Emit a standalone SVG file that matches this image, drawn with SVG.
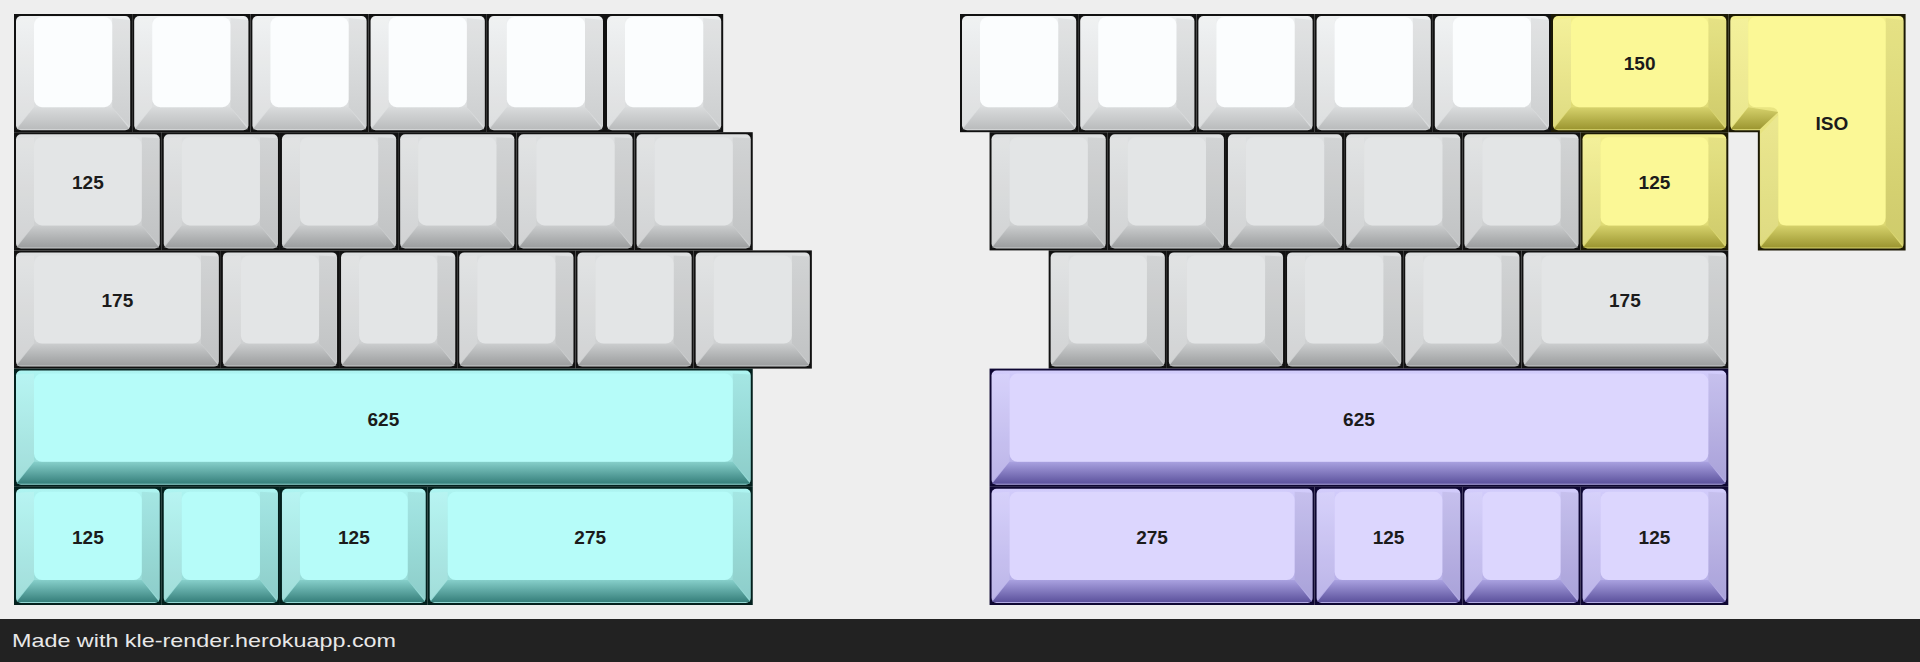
<svg xmlns="http://www.w3.org/2000/svg" width="1920" height="662" viewBox="0 0 1920 662">
<defs>
<linearGradient id="capW" x1="0" y1="0" x2="0" y2="1"><stop offset="0" stop-color="#eef0f1"/><stop offset="1" stop-color="#d8dadb"/></linearGradient>
<linearGradient id="botW" x1="0" y1="0" x2="0" y2="1"><stop offset="0" stop-color="#d9dbdc"/><stop offset="1" stop-color="#babcbd"/></linearGradient>
<linearGradient id="capG" x1="0" y1="0" x2="0" y2="1"><stop offset="0" stop-color="#dee0e1"/><stop offset="1" stop-color="#cbcdce"/></linearGradient>
<linearGradient id="botG" x1="0" y1="0" x2="0" y2="1"><stop offset="0" stop-color="#cbcdce"/><stop offset="1" stop-color="#9c9e9f"/></linearGradient>
<linearGradient id="capC" x1="0" y1="0" x2="0" y2="1"><stop offset="0" stop-color="#aef4f1"/><stop offset="1" stop-color="#94d8d4"/></linearGradient>
<linearGradient id="botC" x1="0" y1="0" x2="0" y2="1"><stop offset="0" stop-color="#86cfca"/><stop offset="1" stop-color="#367f7b"/></linearGradient>
<linearGradient id="capP" x1="0" y1="0" x2="0" y2="1"><stop offset="0" stop-color="#d2ccfb"/><stop offset="1" stop-color="#b2aae4"/></linearGradient>
<linearGradient id="botP" x1="0" y1="0" x2="0" y2="1"><stop offset="0" stop-color="#a9a1e0"/><stop offset="1" stop-color="#5c529d"/></linearGradient>
<linearGradient id="capY" x1="0" y1="0" x2="0" y2="1"><stop offset="0" stop-color="#f3ef8d"/><stop offset="1" stop-color="#dad670"/></linearGradient>
<linearGradient id="botY" x1="0" y1="0" x2="0" y2="1"><stop offset="0" stop-color="#d6d26c"/><stop offset="1" stop-color="#9c9631"/></linearGradient>
</defs>
<style>
.bdW{fill:#111111}.bdC{fill:#03201d}.bdP{fill:#0e0732}.bdY{fill:#1c1904}
.capW{fill:url(#capW)}.botW{fill:url(#botW)}.topW{fill:#fbfdfe}
.capG{fill:url(#capG)}.botG{fill:url(#botG)}.topG{fill:#e3e5e6}
.capC{fill:url(#capC)}.botC{fill:url(#botC)}.topC{fill:#b6fcf9}
.capP{fill:url(#capP)}.botP{fill:url(#botP)}.topP{fill:#dcd6fe}
.capY{fill:url(#capY)}.botY{fill:url(#botY)}.topY{fill:#fbf896}
.shL{fill:#ffffff;fill-opacity:0.12}.shR{fill:#000000;fill-opacity:0.05}
.lbl{font-family:"Liberation Sans",Arial,sans-serif;font-weight:700;font-size:19px;fill:#1b1b1b;text-anchor:middle}
.foot{font-family:"Liberation Sans",Arial,sans-serif;font-size:19px;fill:#e8e8e8}
</style>
<rect width="1920" height="662" fill="#eeeeee"/>

<!-- LEFT BLOCK -->
<g id="L0-0" transform="translate(14,14)"><rect class="bdW" width="118.2" height="118.2"/><rect class="capW" x="2" y="2" width="114.2" height="114.2" rx="5"/><polygon class="shL" points="2,6 20,4 20,93.2 2.5,113"/><polygon class="shR" points="116.2,6 98.2,4 98.2,93.2 115.7,113"/><polygon class="botW" points="2.5,115.2 115.7,115.2 98.2,93.2 20,93.2"/><rect class="topW" x="20" y="3" width="78.2" height="90.2" rx="8"/></g>
<g id="L0-1" transform="translate(132.2,14)"><rect class="bdW" width="118.2" height="118.2"/><rect class="capW" x="2" y="2" width="114.2" height="114.2" rx="5"/><polygon class="shL" points="2,6 20,4 20,93.2 2.5,113"/><polygon class="shR" points="116.2,6 98.2,4 98.2,93.2 115.7,113"/><polygon class="botW" points="2.5,115.2 115.7,115.2 98.2,93.2 20,93.2"/><rect class="topW" x="20" y="3" width="78.2" height="90.2" rx="8"/></g>
<g id="L0-2" transform="translate(250.4,14)"><rect class="bdW" width="118.2" height="118.2"/><rect class="capW" x="2" y="2" width="114.2" height="114.2" rx="5"/><polygon class="shL" points="2,6 20,4 20,93.2 2.5,113"/><polygon class="shR" points="116.2,6 98.2,4 98.2,93.2 115.7,113"/><polygon class="botW" points="2.5,115.2 115.7,115.2 98.2,93.2 20,93.2"/><rect class="topW" x="20" y="3" width="78.2" height="90.2" rx="8"/></g>
<g id="L0-3" transform="translate(368.6,14)"><rect class="bdW" width="118.2" height="118.2"/><rect class="capW" x="2" y="2" width="114.2" height="114.2" rx="5"/><polygon class="shL" points="2,6 20,4 20,93.2 2.5,113"/><polygon class="shR" points="116.2,6 98.2,4 98.2,93.2 115.7,113"/><polygon class="botW" points="2.5,115.2 115.7,115.2 98.2,93.2 20,93.2"/><rect class="topW" x="20" y="3" width="78.2" height="90.2" rx="8"/></g>
<g id="L0-4" transform="translate(486.8,14)"><rect class="bdW" width="118.2" height="118.2"/><rect class="capW" x="2" y="2" width="114.2" height="114.2" rx="5"/><polygon class="shL" points="2,6 20,4 20,93.2 2.5,113"/><polygon class="shR" points="116.2,6 98.2,4 98.2,93.2 115.7,113"/><polygon class="botW" points="2.5,115.2 115.7,115.2 98.2,93.2 20,93.2"/><rect class="topW" x="20" y="3" width="78.2" height="90.2" rx="8"/></g>
<g id="L0-5" transform="translate(605,14)"><rect class="bdW" width="118.2" height="118.2"/><rect class="capW" x="2" y="2" width="114.2" height="114.2" rx="5"/><polygon class="shL" points="2,6 20,4 20,93.2 2.5,113"/><polygon class="shR" points="116.2,6 98.2,4 98.2,93.2 115.7,113"/><polygon class="botW" points="2.5,115.2 115.7,115.2 98.2,93.2 20,93.2"/><rect class="topW" x="20" y="3" width="78.2" height="90.2" rx="8"/></g>

<g id="L1-0" transform="translate(14,132.2)"><rect class="bdW" width="147.75" height="118.2"/><rect class="capG" x="2" y="2" width="143.75" height="114.2" rx="5"/><polygon class="shL" points="2,6 20,5 20,93.2 2.5,113"/><polygon class="shR" points="145.75,6 127.75,5 127.75,93.2 145.25,113"/><polygon class="botG" points="2.5,115.2 145.25,115.2 127.75,93.2 20,93.2"/><rect class="topG" x="20" y="5" width="107.75" height="88.2" rx="8"/><text class="lbl" x="73.9" y="57">125</text></g>
<g id="L1-1" transform="translate(161.75,132.2)"><rect class="bdW" width="118.2" height="118.2"/><rect class="capG" x="2" y="2" width="114.2" height="114.2" rx="5"/><polygon class="shL" points="2,6 20,5 20,93.2 2.5,113"/><polygon class="shR" points="116.2,6 98.2,5 98.2,93.2 115.7,113"/><polygon class="botG" points="2.5,115.2 115.7,115.2 98.2,93.2 20,93.2"/><rect class="topG" x="20" y="5" width="78.2" height="88.2" rx="8"/></g>
<g id="L1-2" transform="translate(279.95,132.2)"><rect class="bdW" width="118.2" height="118.2"/><rect class="capG" x="2" y="2" width="114.2" height="114.2" rx="5"/><polygon class="shL" points="2,6 20,5 20,93.2 2.5,113"/><polygon class="shR" points="116.2,6 98.2,5 98.2,93.2 115.7,113"/><polygon class="botG" points="2.5,115.2 115.7,115.2 98.2,93.2 20,93.2"/><rect class="topG" x="20" y="5" width="78.2" height="88.2" rx="8"/></g>
<g id="L1-3" transform="translate(398.15,132.2)"><rect class="bdW" width="118.2" height="118.2"/><rect class="capG" x="2" y="2" width="114.2" height="114.2" rx="5"/><polygon class="shL" points="2,6 20,5 20,93.2 2.5,113"/><polygon class="shR" points="116.2,6 98.2,5 98.2,93.2 115.7,113"/><polygon class="botG" points="2.5,115.2 115.7,115.2 98.2,93.2 20,93.2"/><rect class="topG" x="20" y="5" width="78.2" height="88.2" rx="8"/></g>
<g id="L1-4" transform="translate(516.35,132.2)"><rect class="bdW" width="118.2" height="118.2"/><rect class="capG" x="2" y="2" width="114.2" height="114.2" rx="5"/><polygon class="shL" points="2,6 20,5 20,93.2 2.5,113"/><polygon class="shR" points="116.2,6 98.2,5 98.2,93.2 115.7,113"/><polygon class="botG" points="2.5,115.2 115.7,115.2 98.2,93.2 20,93.2"/><rect class="topG" x="20" y="5" width="78.2" height="88.2" rx="8"/></g>
<g id="L1-5" transform="translate(634.55,132.2)"><rect class="bdW" width="118.2" height="118.2"/><rect class="capG" x="2" y="2" width="114.2" height="114.2" rx="5"/><polygon class="shL" points="2,6 20,5 20,93.2 2.5,113"/><polygon class="shR" points="116.2,6 98.2,5 98.2,93.2 115.7,113"/><polygon class="botG" points="2.5,115.2 115.7,115.2 98.2,93.2 20,93.2"/><rect class="topG" x="20" y="5" width="78.2" height="88.2" rx="8"/></g>

<g id="L2-0" transform="translate(14,250.4)"><rect class="bdW" width="206.85" height="118.2"/><rect class="capG" x="2" y="2" width="202.85" height="114.2" rx="5"/><polygon class="shL" points="2,6 20,5 20,93.2 2.5,113"/><polygon class="shR" points="204.85,6 186.85,5 186.85,93.2 204.35,113"/><polygon class="botG" points="2.5,115.2 204.35,115.2 186.85,93.2 20,93.2"/><rect class="topG" x="20" y="5" width="166.85" height="88.2" rx="8"/><text class="lbl" x="103.4" y="57">175</text></g>
<g id="L2-1" transform="translate(220.85,250.4)"><rect class="bdW" width="118.2" height="118.2"/><rect class="capG" x="2" y="2" width="114.2" height="114.2" rx="5"/><polygon class="shL" points="2,6 20,5 20,93.2 2.5,113"/><polygon class="shR" points="116.2,6 98.2,5 98.2,93.2 115.7,113"/><polygon class="botG" points="2.5,115.2 115.7,115.2 98.2,93.2 20,93.2"/><rect class="topG" x="20" y="5" width="78.2" height="88.2" rx="8"/></g>
<g id="L2-2" transform="translate(339.05,250.4)"><rect class="bdW" width="118.2" height="118.2"/><rect class="capG" x="2" y="2" width="114.2" height="114.2" rx="5"/><polygon class="shL" points="2,6 20,5 20,93.2 2.5,113"/><polygon class="shR" points="116.2,6 98.2,5 98.2,93.2 115.7,113"/><polygon class="botG" points="2.5,115.2 115.7,115.2 98.2,93.2 20,93.2"/><rect class="topG" x="20" y="5" width="78.2" height="88.2" rx="8"/></g>
<g id="L2-3" transform="translate(457.25,250.4)"><rect class="bdW" width="118.2" height="118.2"/><rect class="capG" x="2" y="2" width="114.2" height="114.2" rx="5"/><polygon class="shL" points="2,6 20,5 20,93.2 2.5,113"/><polygon class="shR" points="116.2,6 98.2,5 98.2,93.2 115.7,113"/><polygon class="botG" points="2.5,115.2 115.7,115.2 98.2,93.2 20,93.2"/><rect class="topG" x="20" y="5" width="78.2" height="88.2" rx="8"/></g>
<g id="L2-4" transform="translate(575.45,250.4)"><rect class="bdW" width="118.2" height="118.2"/><rect class="capG" x="2" y="2" width="114.2" height="114.2" rx="5"/><polygon class="shL" points="2,6 20,5 20,93.2 2.5,113"/><polygon class="shR" points="116.2,6 98.2,5 98.2,93.2 115.7,113"/><polygon class="botG" points="2.5,115.2 115.7,115.2 98.2,93.2 20,93.2"/><rect class="topG" x="20" y="5" width="78.2" height="88.2" rx="8"/></g>
<g id="L2-5" transform="translate(693.65,250.4)"><rect class="bdW" width="118.2" height="118.2"/><rect class="capG" x="2" y="2" width="114.2" height="114.2" rx="5"/><polygon class="shL" points="2,6 20,5 20,93.2 2.5,113"/><polygon class="shR" points="116.2,6 98.2,5 98.2,93.2 115.7,113"/><polygon class="botG" points="2.5,115.2 115.7,115.2 98.2,93.2 20,93.2"/><rect class="topG" x="20" y="5" width="78.2" height="88.2" rx="8"/></g>

<g id="L3-0" transform="translate(14,368.6)"><rect class="bdC" width="738.75" height="118.2"/><rect class="capC" x="2" y="2" width="734.75" height="114.2" rx="5"/><polygon class="shL" points="2,6 20,5 20,93.2 2.5,113"/><polygon class="shR" points="736.75,6 718.75,5 718.75,93.2 736.25,113"/><polygon class="botC" points="2.5,115.2 736.25,115.2 718.75,93.2 20,93.2"/><rect class="topC" x="20" y="5" width="698.75" height="88.2" rx="8"/><text class="lbl" x="369.4" y="57">625</text></g>

<g id="L4-0" transform="translate(14,486.8)"><rect class="bdC" width="147.75" height="118.2"/><rect class="capC" x="2" y="2" width="143.75" height="114.2" rx="5"/><polygon class="shL" points="2,6 20,5 20,93.2 2.5,113"/><polygon class="shR" points="145.75,6 127.75,5 127.75,93.2 145.25,113"/><polygon class="botC" points="2.5,115.2 145.25,115.2 127.75,93.2 20,93.2"/><rect class="topC" x="20" y="5" width="107.75" height="88.2" rx="8"/><text class="lbl" x="73.9" y="57">125</text></g>
<g id="L4-1" transform="translate(161.75,486.8)"><rect class="bdC" width="118.2" height="118.2"/><rect class="capC" x="2" y="2" width="114.2" height="114.2" rx="5"/><polygon class="shL" points="2,6 20,5 20,93.2 2.5,113"/><polygon class="shR" points="116.2,6 98.2,5 98.2,93.2 115.7,113"/><polygon class="botC" points="2.5,115.2 115.7,115.2 98.2,93.2 20,93.2"/><rect class="topC" x="20" y="5" width="78.2" height="88.2" rx="8"/></g>
<g id="L4-2" transform="translate(279.95,486.8)"><rect class="bdC" width="147.75" height="118.2"/><rect class="capC" x="2" y="2" width="143.75" height="114.2" rx="5"/><polygon class="shL" points="2,6 20,5 20,93.2 2.5,113"/><polygon class="shR" points="145.75,6 127.75,5 127.75,93.2 145.25,113"/><polygon class="botC" points="2.5,115.2 145.25,115.2 127.75,93.2 20,93.2"/><rect class="topC" x="20" y="5" width="107.75" height="88.2" rx="8"/><text class="lbl" x="73.9" y="57">125</text></g>
<g id="L4-3" transform="translate(427.7,486.8)"><rect class="bdC" width="325.05" height="118.2"/><rect class="capC" x="2" y="2" width="321.05" height="114.2" rx="5"/><polygon class="shL" points="2,6 20,5 20,93.2 2.5,113"/><polygon class="shR" points="323.05,6 305.05,5 305.05,93.2 322.55,113"/><polygon class="botC" points="2.5,115.2 322.55,115.2 305.05,93.2 20,93.2"/><rect class="topC" x="20" y="5" width="285.05" height="88.2" rx="8"/><text class="lbl" x="162.5" y="57">275</text></g>

<!-- RIGHT BLOCK -->
<g id="R0-0" transform="translate(960,14)"><rect class="bdW" width="118.2" height="118.2"/><rect class="capW" x="2" y="2" width="114.2" height="114.2" rx="5"/><polygon class="shL" points="2,6 20,4 20,93.2 2.5,113"/><polygon class="shR" points="116.2,6 98.2,4 98.2,93.2 115.7,113"/><polygon class="botW" points="2.5,115.2 115.7,115.2 98.2,93.2 20,93.2"/><rect class="topW" x="20" y="3" width="78.2" height="90.2" rx="8"/></g>
<g id="R0-1" transform="translate(1078.2,14)"><rect class="bdW" width="118.2" height="118.2"/><rect class="capW" x="2" y="2" width="114.2" height="114.2" rx="5"/><polygon class="shL" points="2,6 20,4 20,93.2 2.5,113"/><polygon class="shR" points="116.2,6 98.2,4 98.2,93.2 115.7,113"/><polygon class="botW" points="2.5,115.2 115.7,115.2 98.2,93.2 20,93.2"/><rect class="topW" x="20" y="3" width="78.2" height="90.2" rx="8"/></g>
<g id="R0-2" transform="translate(1196.4,14)"><rect class="bdW" width="118.2" height="118.2"/><rect class="capW" x="2" y="2" width="114.2" height="114.2" rx="5"/><polygon class="shL" points="2,6 20,4 20,93.2 2.5,113"/><polygon class="shR" points="116.2,6 98.2,4 98.2,93.2 115.7,113"/><polygon class="botW" points="2.5,115.2 115.7,115.2 98.2,93.2 20,93.2"/><rect class="topW" x="20" y="3" width="78.2" height="90.2" rx="8"/></g>
<g id="R0-3" transform="translate(1314.6,14)"><rect class="bdW" width="118.2" height="118.2"/><rect class="capW" x="2" y="2" width="114.2" height="114.2" rx="5"/><polygon class="shL" points="2,6 20,4 20,93.2 2.5,113"/><polygon class="shR" points="116.2,6 98.2,4 98.2,93.2 115.7,113"/><polygon class="botW" points="2.5,115.2 115.7,115.2 98.2,93.2 20,93.2"/><rect class="topW" x="20" y="3" width="78.2" height="90.2" rx="8"/></g>
<g id="R0-4" transform="translate(1432.8,14)"><rect class="bdW" width="118.2" height="118.2"/><rect class="capW" x="2" y="2" width="114.2" height="114.2" rx="5"/><polygon class="shL" points="2,6 20,4 20,93.2 2.5,113"/><polygon class="shR" points="116.2,6 98.2,4 98.2,93.2 115.7,113"/><polygon class="botW" points="2.5,115.2 115.7,115.2 98.2,93.2 20,93.2"/><rect class="topW" x="20" y="3" width="78.2" height="90.2" rx="8"/></g>
<g id="R0-5" transform="translate(1551,14)"><rect class="bdY" width="177.3" height="118.2"/><rect class="capY" x="2" y="2" width="173.3" height="114.2" rx="5"/><polygon class="shL" points="2,6 20,4 20,93.2 2.5,113"/><polygon class="shR" points="175.3,6 157.3,4 157.3,93.2 174.8,113"/><polygon class="botY" points="2.5,115.2 174.8,115.2 157.3,93.2 20,93.2"/><rect class="topY" x="20" y="3" width="137.3" height="90.2" rx="8"/><text class="lbl" x="88.65" y="56">150</text></g>
<g id="R-ISO" transform="translate(1728.3,14)"><path class="bdY" d="M0,0 H177.3 V236.4 H29.55 V118.2 H0 Z"/><path class="capY" d="M7,2 H170.3 Q175.3,2 175.3,7 V229.4 Q175.3,234.4 170.3,234.4 H36.55 Q31.55,234.4 31.55,229.4 V116.2 H7 Q2,116.2 2,111.2 V7 Q2,2 7,2 Z"/><polygon class="shL" points="2,6 20,4 20,93.2 2.5,113"/><polygon class="shL" points="32,120 50,101 50,211.4 32,231"/><polygon class="shR" points="175.3,6 157.3,4 157.3,211.4 174.8,231"/><polygon class="botY" points="32,233.4 174.8,233.4 157.3,211.4 50,211.4"/><polygon class="botY" points="2.5,115.2 31.55,115.2 50,98 20,93.2"/><path class="topY" d="M28,3 H149.3 Q157.3,3 157.3,11 V203.4 Q157.3,211.4 149.3,211.4 H58 Q50,211.4 50,203.4 V101.2 Q50,93.2 42,93.2 H28 Q20,93.2 20,85.2 V11 Q20,3 28,3 Z"/><text class="lbl" x="103.65" y="115.5">ISO</text></g>

<g id="R1-0" transform="translate(989.55,132.2)"><rect class="bdW" width="118.2" height="118.2"/><rect class="capG" x="2" y="2" width="114.2" height="114.2" rx="5"/><polygon class="shL" points="2,6 20,5 20,93.2 2.5,113"/><polygon class="shR" points="116.2,6 98.2,5 98.2,93.2 115.7,113"/><polygon class="botG" points="2.5,115.2 115.7,115.2 98.2,93.2 20,93.2"/><rect class="topG" x="20" y="5" width="78.2" height="88.2" rx="8"/></g>
<g id="R1-1" transform="translate(1107.75,132.2)"><rect class="bdW" width="118.2" height="118.2"/><rect class="capG" x="2" y="2" width="114.2" height="114.2" rx="5"/><polygon class="shL" points="2,6 20,5 20,93.2 2.5,113"/><polygon class="shR" points="116.2,6 98.2,5 98.2,93.2 115.7,113"/><polygon class="botG" points="2.5,115.2 115.7,115.2 98.2,93.2 20,93.2"/><rect class="topG" x="20" y="5" width="78.2" height="88.2" rx="8"/></g>
<g id="R1-2" transform="translate(1225.95,132.2)"><rect class="bdW" width="118.2" height="118.2"/><rect class="capG" x="2" y="2" width="114.2" height="114.2" rx="5"/><polygon class="shL" points="2,6 20,5 20,93.2 2.5,113"/><polygon class="shR" points="116.2,6 98.2,5 98.2,93.2 115.7,113"/><polygon class="botG" points="2.5,115.2 115.7,115.2 98.2,93.2 20,93.2"/><rect class="topG" x="20" y="5" width="78.2" height="88.2" rx="8"/></g>
<g id="R1-3" transform="translate(1344.15,132.2)"><rect class="bdW" width="118.2" height="118.2"/><rect class="capG" x="2" y="2" width="114.2" height="114.2" rx="5"/><polygon class="shL" points="2,6 20,5 20,93.2 2.5,113"/><polygon class="shR" points="116.2,6 98.2,5 98.2,93.2 115.7,113"/><polygon class="botG" points="2.5,115.2 115.7,115.2 98.2,93.2 20,93.2"/><rect class="topG" x="20" y="5" width="78.2" height="88.2" rx="8"/></g>
<g id="R1-4" transform="translate(1462.35,132.2)"><rect class="bdW" width="118.2" height="118.2"/><rect class="capG" x="2" y="2" width="114.2" height="114.2" rx="5"/><polygon class="shL" points="2,6 20,5 20,93.2 2.5,113"/><polygon class="shR" points="116.2,6 98.2,5 98.2,93.2 115.7,113"/><polygon class="botG" points="2.5,115.2 115.7,115.2 98.2,93.2 20,93.2"/><rect class="topG" x="20" y="5" width="78.2" height="88.2" rx="8"/></g>
<g id="R1-5" transform="translate(1580.55,132.2)"><rect class="bdY" width="147.75" height="118.2"/><rect class="capY" x="2" y="2" width="143.75" height="114.2" rx="5"/><polygon class="shL" points="2,6 20,5 20,93.2 2.5,113"/><polygon class="shR" points="145.75,6 127.75,5 127.75,93.2 145.25,113"/><polygon class="botY" points="2.5,115.2 145.25,115.2 127.75,93.2 20,93.2"/><rect class="topY" x="20" y="5" width="107.75" height="88.2" rx="8"/><text class="lbl" x="73.9" y="57">125</text></g>

<g id="R2-0" transform="translate(1048.65,250.4)"><rect class="bdW" width="118.2" height="118.2"/><rect class="capG" x="2" y="2" width="114.2" height="114.2" rx="5"/><polygon class="shL" points="2,6 20,5 20,93.2 2.5,113"/><polygon class="shR" points="116.2,6 98.2,5 98.2,93.2 115.7,113"/><polygon class="botG" points="2.5,115.2 115.7,115.2 98.2,93.2 20,93.2"/><rect class="topG" x="20" y="5" width="78.2" height="88.2" rx="8"/></g>
<g id="R2-1" transform="translate(1166.85,250.4)"><rect class="bdW" width="118.2" height="118.2"/><rect class="capG" x="2" y="2" width="114.2" height="114.2" rx="5"/><polygon class="shL" points="2,6 20,5 20,93.2 2.5,113"/><polygon class="shR" points="116.2,6 98.2,5 98.2,93.2 115.7,113"/><polygon class="botG" points="2.5,115.2 115.7,115.2 98.2,93.2 20,93.2"/><rect class="topG" x="20" y="5" width="78.2" height="88.2" rx="8"/></g>
<g id="R2-2" transform="translate(1285.05,250.4)"><rect class="bdW" width="118.2" height="118.2"/><rect class="capG" x="2" y="2" width="114.2" height="114.2" rx="5"/><polygon class="shL" points="2,6 20,5 20,93.2 2.5,113"/><polygon class="shR" points="116.2,6 98.2,5 98.2,93.2 115.7,113"/><polygon class="botG" points="2.5,115.2 115.7,115.2 98.2,93.2 20,93.2"/><rect class="topG" x="20" y="5" width="78.2" height="88.2" rx="8"/></g>
<g id="R2-3" transform="translate(1403.25,250.4)"><rect class="bdW" width="118.2" height="118.2"/><rect class="capG" x="2" y="2" width="114.2" height="114.2" rx="5"/><polygon class="shL" points="2,6 20,5 20,93.2 2.5,113"/><polygon class="shR" points="116.2,6 98.2,5 98.2,93.2 115.7,113"/><polygon class="botG" points="2.5,115.2 115.7,115.2 98.2,93.2 20,93.2"/><rect class="topG" x="20" y="5" width="78.2" height="88.2" rx="8"/></g>
<g id="R2-4" transform="translate(1521.45,250.4)"><rect class="bdW" width="206.85" height="118.2"/><rect class="capG" x="2" y="2" width="202.85" height="114.2" rx="5"/><polygon class="shL" points="2,6 20,5 20,93.2 2.5,113"/><polygon class="shR" points="204.85,6 186.85,5 186.85,93.2 204.35,113"/><polygon class="botG" points="2.5,115.2 204.35,115.2 186.85,93.2 20,93.2"/><rect class="topG" x="20" y="5" width="166.85" height="88.2" rx="8"/><text class="lbl" x="103.4" y="57">175</text></g>

<g id="R3-0" transform="translate(989.55,368.6)"><rect class="bdP" width="738.75" height="118.2"/><rect class="capP" x="2" y="2" width="734.75" height="114.2" rx="5"/><polygon class="shL" points="2,6 20,5 20,93.2 2.5,113"/><polygon class="shR" points="736.75,6 718.75,5 718.75,93.2 736.25,113"/><polygon class="botP" points="2.5,115.2 736.25,115.2 718.75,93.2 20,93.2"/><rect class="topP" x="20" y="5" width="698.75" height="88.2" rx="8"/><text class="lbl" x="369.4" y="57">625</text></g>

<g id="R4-0" transform="translate(989.55,486.8)"><rect class="bdP" width="325.05" height="118.2"/><rect class="capP" x="2" y="2" width="321.05" height="114.2" rx="5"/><polygon class="shL" points="2,6 20,5 20,93.2 2.5,113"/><polygon class="shR" points="323.05,6 305.05,5 305.05,93.2 322.55,113"/><polygon class="botP" points="2.5,115.2 322.55,115.2 305.05,93.2 20,93.2"/><rect class="topP" x="20" y="5" width="285.05" height="88.2" rx="8"/><text class="lbl" x="162.5" y="57">275</text></g>
<g id="R4-1" transform="translate(1314.6,486.8)"><rect class="bdP" width="147.75" height="118.2"/><rect class="capP" x="2" y="2" width="143.75" height="114.2" rx="5"/><polygon class="shL" points="2,6 20,5 20,93.2 2.5,113"/><polygon class="shR" points="145.75,6 127.75,5 127.75,93.2 145.25,113"/><polygon class="botP" points="2.5,115.2 145.25,115.2 127.75,93.2 20,93.2"/><rect class="topP" x="20" y="5" width="107.75" height="88.2" rx="8"/><text class="lbl" x="73.9" y="57">125</text></g>
<g id="R4-2" transform="translate(1462.35,486.8)"><rect class="bdP" width="118.2" height="118.2"/><rect class="capP" x="2" y="2" width="114.2" height="114.2" rx="5"/><polygon class="shL" points="2,6 20,5 20,93.2 2.5,113"/><polygon class="shR" points="116.2,6 98.2,5 98.2,93.2 115.7,113"/><polygon class="botP" points="2.5,115.2 115.7,115.2 98.2,93.2 20,93.2"/><rect class="topP" x="20" y="5" width="78.2" height="88.2" rx="8"/></g>
<g id="R4-3" transform="translate(1580.55,486.8)"><rect class="bdP" width="147.75" height="118.2"/><rect class="capP" x="2" y="2" width="143.75" height="114.2" rx="5"/><polygon class="shL" points="2,6 20,5 20,93.2 2.5,113"/><polygon class="shR" points="145.75,6 127.75,5 127.75,93.2 145.25,113"/><polygon class="botP" points="2.5,115.2 145.25,115.2 127.75,93.2 20,93.2"/><rect class="topP" x="20" y="5" width="107.75" height="88.2" rx="8"/><text class="lbl" x="73.9" y="57">125</text></g>

<g id="footer"><rect x="0" y="619" width="1920" height="43" fill="#222222"/><text class="foot" x="12" y="647" textLength="384" lengthAdjust="spacingAndGlyphs">Made with kle-render.herokuapp.com</text></g>
</svg>
